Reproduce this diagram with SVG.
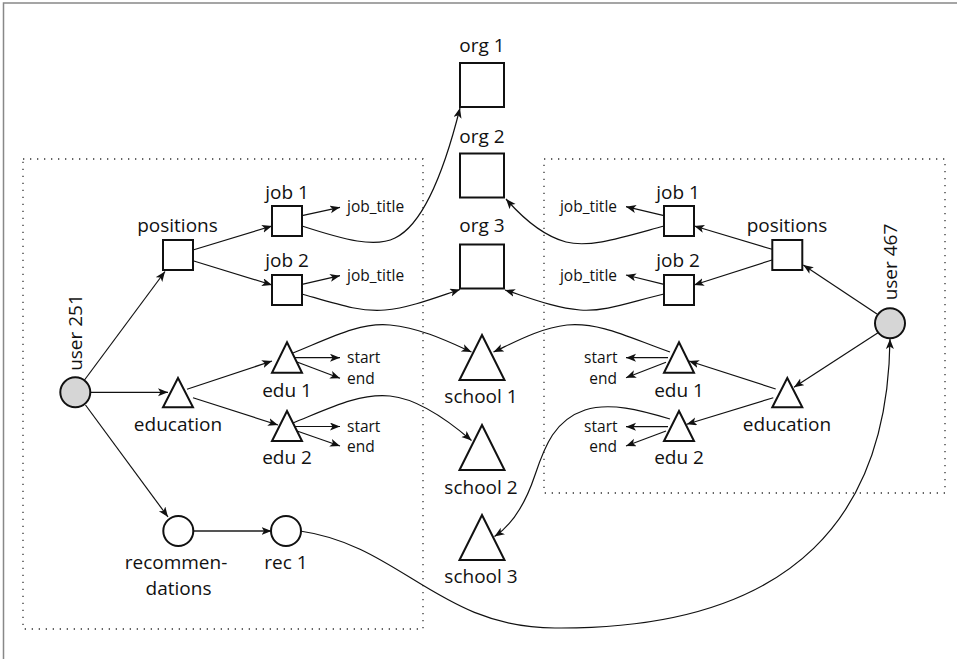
<svg xmlns="http://www.w3.org/2000/svg" width="957" height="659" viewBox="0 0 957 659">
<style>
text{font-family:"Open Sans","Liberation Sans",sans-serif;fill:#111}
.big{font-size:19px;text-anchor:middle}
.sm{font-size:15.5px}
.end{text-anchor:end}
.shape{fill:#fff;stroke:#111;stroke-width:2}
.user{fill:#d6d6d6;stroke:#111;stroke-width:2}
.box{fill:none;stroke:#333;stroke-width:1.3;stroke-dasharray:1.3 5.7}
.c{fill:none;stroke:#111;stroke-width:1.2;marker-end:url(#ah)}
</style>
<defs>
<marker id="ah" markerUnits="userSpaceOnUse" markerWidth="11" markerHeight="9" refX="10" refY="4" orient="auto">
<path d="M0,0 L10,4 L0,8 L2.5,4 z" fill="#111"/>
</marker>
</defs>
<rect width="957" height="659" fill="#fff"/>
<path d="M3.5,659 V3 H957" fill="none" stroke="#888" stroke-width="1.5"/>
<g id="boxes">
<rect class="box" x="23" y="159" width="400" height="470"/>
<rect class="box" x="544" y="159" width="401" height="334"/>
</g>
<g id="connectors">
<path class="c" d="M84.5,380 L165,271.5"/>
<path class="c" d="M90.5,392.3 L168,392.3"/>
<path class="c" d="M85.5,405 L168,517"/>
<path class="c" d="M193,531 L271.5,531" style="stroke:#555;stroke-width:1.8"/>
<path class="c" d="M193,250 L272,226"/>
<path class="c" d="M193,260.7 L272,285"/>
<path class="c" d="M302,215.7 L340,207.3"/>
<path class="c" d="M302,284.3 L340,275.7"/>
<path class="c" d="M187,389.3 L272,361"/>
<path class="c" d="M193,397.7 L278,425"/>
<path class="c" d="M295,357.7 L340,357.7"/>
<path class="c" d="M297,362 L340,378.3"/>
<path class="c" d="M295,426.5 L340,426.5"/>
<path class="c" d="M297,431 L340,446"/>
<path class="c" d="M877,314 L803.3,265"/>
<path class="c" d="M878,332.7 L794,387.3"/>
<path class="c" d="M772,249.3 L694.3,226"/>
<path class="c" d="M772,260 L694,285"/>
<path class="c" d="M664,215.7 L626,206.7"/>
<path class="c" d="M664,284.3 L626,275"/>
<path class="c" d="M775.7,389 L689,361"/>
<path class="c" d="M773.3,397.7 L686.7,424.3"/>
<path class="c" d="M668,357.7 L626,357.7"/>
<path class="c" d="M666,362.3 L626,377.7"/>
<path class="c" d="M668,426.7 L626,426.7"/>
<path class="c" d="M666,431 L626,446"/>
<path class="c" d="M302,226 C345,240 375,248 395,238 C420,226 442,180 460,108"/>
<path class="c" d="M302,294 C340,305 360,312 385,310 C410,308 440,296 460,289.5"/>
<path class="c" d="M664,226 C620,238 590,248 566,242 C540,235 520,215 506,199"/>
<path class="c" d="M664,294 C630,302 605,312 580,310 C555,308 530,298 505,290"/>
<path class="c" d="M293,353 C330,338 360,322 390,325 C420,328 445,340 471.5,352"/>
<path class="c" d="M293,423 C330,408 360,393 390,396 C420,399 450,422 471.5,440.5"/>
<path class="c" d="M670,352 C630,338 600,322 567,325 C540,328 515,342 493.5,352"/>
<path class="c" d="M670,419 C640,410 610,402 585,410 C555,420 545,445 535,475 C525,505 512,525 494.5,536.5"/>
<path class="c" d="M300,531 C400,545 440,628 555,628 C800,630 888,510 890,339"/>
</g>
<g id="org1"><rect class="shape" x="460" y="63" width="44" height="44"/><text class="big" x="482" y="51.7">org 1</text></g>
<g id="org2"><rect class="shape" x="460" y="153.5" width="44" height="44"/><text class="big" x="482" y="143.3">org 2</text></g>
<g id="org3"><rect class="shape" x="460" y="244.5" width="44" height="44"/><text class="big" x="482" y="231.7">org 3</text></g>
<g id="school1"><path class="shape" d="M482,335 L504.5,380 L459.5,380 z"/><text class="big" x="481" y="403.3">school 1</text></g>
<g id="school2"><path class="shape" d="M482,425 L504.5,470 L459.5,470 z"/><text class="big" x="481" y="494.3">school 2</text></g>
<g id="school3"><path class="shape" d="M482,515 L504.5,560 L459.5,560 z"/><text class="big" x="481" y="583.3">school 3</text></g>
<g id="user251"><circle class="user" cx="75.3" cy="392.3" r="15"/><text class="big" x="82" y="332.5" transform="rotate(-90 82 332.5)">user 251</text></g>
<g id="positions-l"><rect class="shape" x="163" y="240" width="30" height="30"/><text class="big" x="177.5" y="231.7">positions</text></g>
<g id="job1-l"><rect class="shape" x="272" y="206" width="30" height="30"/><text class="big" x="287" y="199">job 1</text><text class="sm" x="347" y="211.7">job_title</text></g>
<g id="job2-l"><rect class="shape" x="272" y="275" width="30" height="30"/><text class="big" x="287" y="266.7">job 2</text><text class="sm" x="347" y="280.7">job_title</text></g>
<g id="education-l"><path class="shape" d="M178,378 L193,407.3 L163,407.3 z"/><text class="big" x="178" y="430.7">education</text></g>
<g id="edu1-l"><path class="shape" d="M287,342.3 L302,372.7 L272,372.7 z"/><text class="big" x="287" y="396.7">edu 1</text><text class="sm" x="347" y="363.3">start</text><text class="sm" x="347" y="384.3">end</text></g>
<g id="edu2-l"><path class="shape" d="M287,411 L302,441 L272,441 z"/><text class="big" x="287" y="464">edu 2</text><text class="sm" x="347" y="431.5">start</text><text class="sm" x="347" y="452">end</text></g>
<g id="recommendations"><circle class="shape" cx="178.3" cy="531" r="15"/><text class="big" x="176" y="569">recommen-</text><text class="big" x="178.5" y="595">dations</text></g>
<g id="rec1"><circle class="shape" cx="286" cy="531" r="15"/><text class="big" x="286" y="569">rec 1</text></g>
<g id="user467"><circle class="user" cx="890" cy="323.3" r="15"/><text class="big" x="897" y="262" transform="rotate(-90 897 262)">user 467</text></g>
<g id="positions-r"><rect class="shape" x="772.3" y="240" width="30" height="30"/><text class="big" x="787" y="231.7">positions</text></g>
<g id="job1-r"><rect class="shape" x="664" y="206" width="30" height="30"/><text class="big" x="678" y="199">job 1</text><text class="sm end" x="617" y="211.7">job_title</text></g>
<g id="job2-r"><rect class="shape" x="664" y="275" width="30" height="30"/><text class="big" x="678" y="266.7">job 2</text><text class="sm end" x="617" y="280.7">job_title</text></g>
<g id="education-r"><path class="shape" d="M787.3,378 L802.3,407.3 L772.3,407.3 z"/><text class="big" x="787" y="430.7">education</text></g>
<g id="edu1-r"><path class="shape" d="M679,342.3 L694,372.7 L664,372.7 z"/><text class="big" x="679" y="396.7">edu 1</text><text class="sm end" x="617.5" y="363.3">start</text><text class="sm end" x="617" y="384.3">end</text></g>
<g id="edu2-r"><path class="shape" d="M679,411 L694,441 L664,441 z"/><text class="big" x="679" y="464">edu 2</text><text class="sm end" x="617.5" y="431.5">start</text><text class="sm end" x="617" y="452">end</text></g>
</svg>
